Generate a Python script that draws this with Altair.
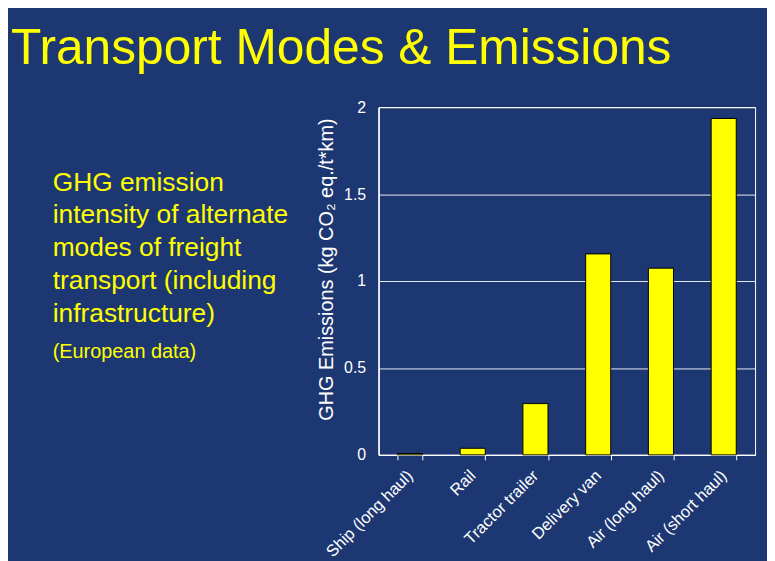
import altair as alt
import pandas as pd

# ---- data ----
modes = ["Ship (long haul)", "Rail", "Tractor trailer", "Delivery van",
         "Air (long haul)", "Air (short haul)"]
emissions = [0.008, 0.038, 0.295, 1.156, 1.074, 1.935]
y_ticks = [0, 0.5, 1, 1.5, 2]
title_text = "Transport Modes & Emissions"
desc_lines = ["GHG emission", "intensity of alternate", "modes of freight",
              "transport (including", "infrastructure)"]
note_text = "(European data)"
y_title = "GHG Emissions (kg CO\u2082 eq./t*km)"

df = pd.DataFrame({"mode": modes, "value": emissions})

FONT = "Liberation Sans"
YELLOW = "#FFFF00"

bars = alt.Chart(df).mark_bar(color=YELLOW, stroke="black", strokeWidth=1).encode(
    x=alt.X("mode:N", sort=modes,
            scale=alt.Scale(paddingInner=0.6, paddingOuter=0.3),
            axis=alt.Axis(title=None, labelAngle=-45, labelAlign="right",
                          labelBaseline="middle", labelColor="white",
                          labelFontSize=16.5, labelFont=FONT, labelPadding=13,
                          tickBand="extent", tickColor="white", tickSize=5,
                          tickWidth=1, domainColor="white", domainWidth=1.5,
                          grid=False)),
    y=alt.Y("value:Q", scale=alt.Scale(domain=[0, 2], nice=False),
            axis=alt.Axis(values=y_ticks, format="~g", title=y_title,
                          titleColor="white", titleFont=FONT, titleFontSize=20,
                          titleFontWeight="normal", titleAngle=270,
                          titleAlign="center", titleBaseline="alphabetic",
                          titleX=-46, titleY=163,
                          labelColor="white", labelFont=FONT, labelFontSize=16,
                          labelPadding=13, ticks=False, tickSize=0,
                          domainColor="white", domainWidth=1.5,
                          gridColor="white", gridWidth=1, gridOpacity=0.9)),
)

title_layer = alt.Chart(pd.DataFrame({"t": [title_text]})).mark_text(
    align="left", baseline="alphabetic", font=FONT, fontSize=50, color=YELLOW
).encode(text="t:N", x=alt.value(-370), y=alt.value(-43))

desc_layer = alt.Chart(pd.DataFrame({"t": ["\n".join(desc_lines)]})).mark_text(
    align="left", baseline="alphabetic", font=FONT, fontSize=26.5, color=YELLOW,
    lineBreak="\n", lineHeight=33
).encode(text="t:N", x=alt.value(-328), y=alt.value(84))

note_layer = alt.Chart(pd.DataFrame({"t": [note_text]})).mark_text(
    align="left", baseline="alphabetic", font=FONT, fontSize=20, color=YELLOW
).encode(text="t:N", x=alt.value(-328), y=alt.value(252))

chart = alt.layer(bars, title_layer, desc_layer, note_layer).properties(
    width=379, height=350,
    autosize=alt.AutoSizeParams(type="none"),
    padding={"left": 373, "top": 98, "right": 12, "bottom": 105},
).configure(background="#1d3773").configure_view(stroke="white", strokeWidth=1)

chart.save("out.html", embed_options={"renderer": "svg", "actions": False})
